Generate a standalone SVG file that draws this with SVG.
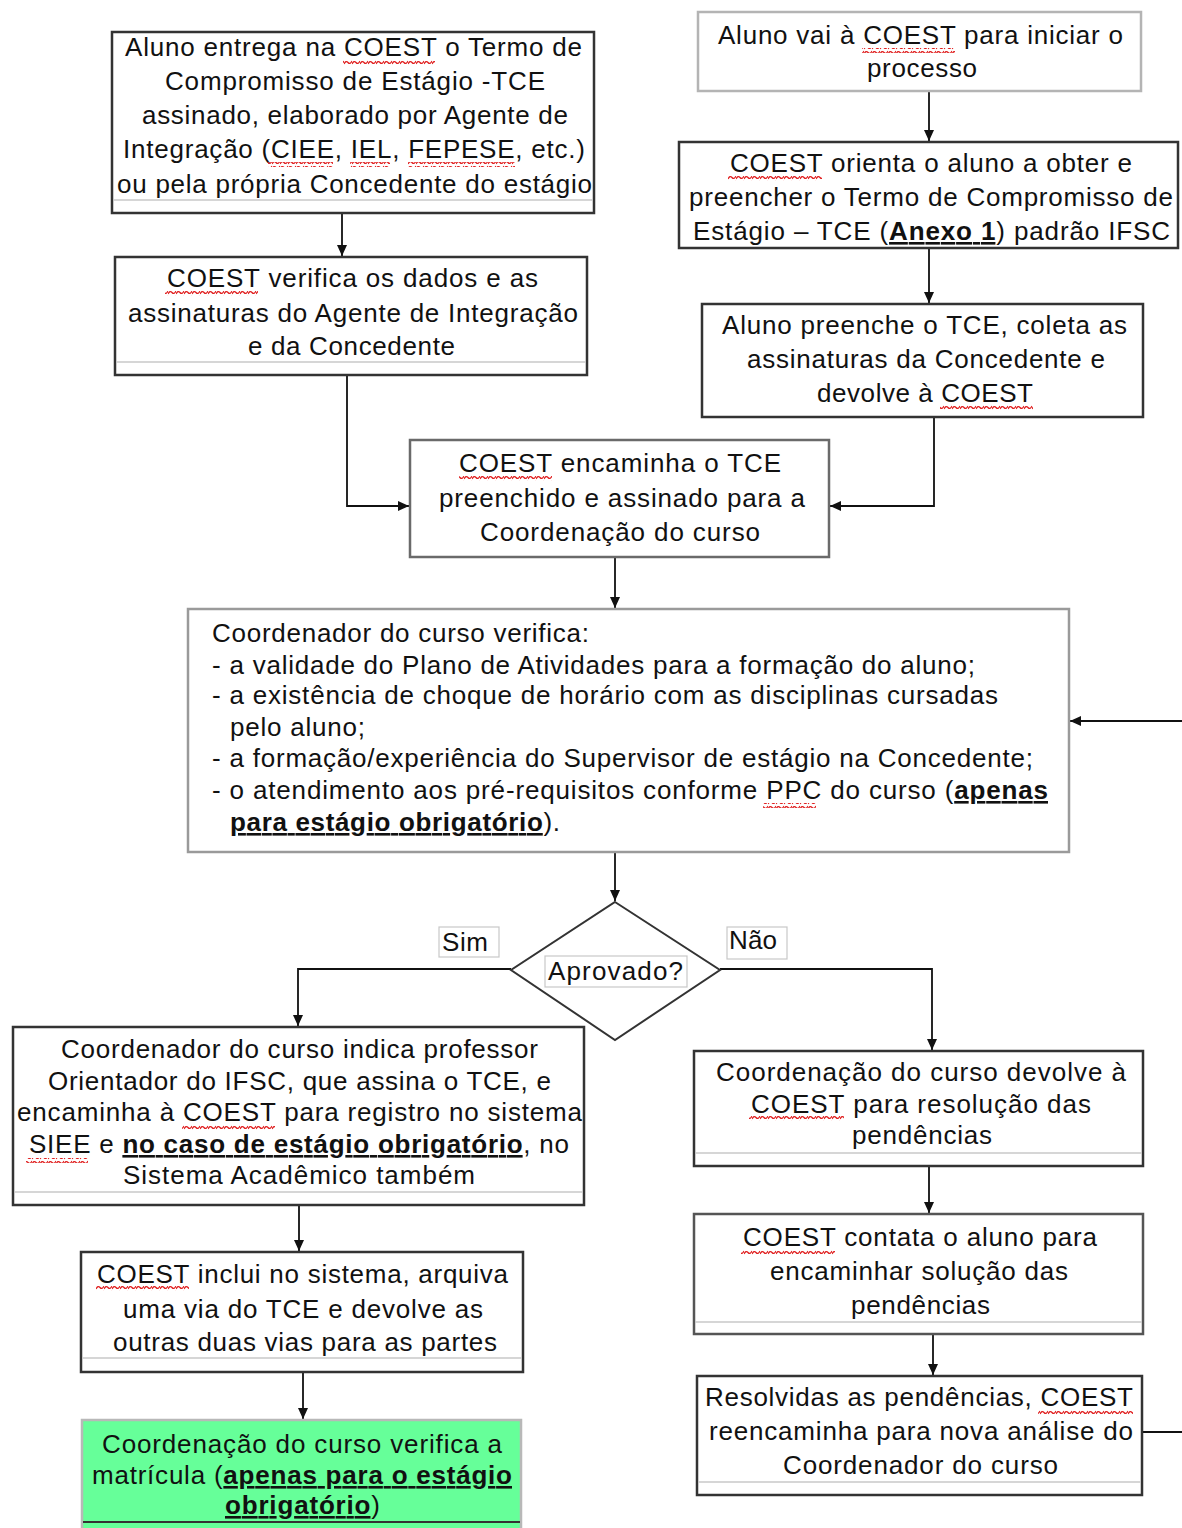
<svg xmlns="http://www.w3.org/2000/svg" width="1182" height="1528" viewBox="0 0 1182 1528">
<style>
text{font-family:"Liberation Sans",Arial,sans-serif;font-size:26px;fill:#111;}
.b{font-weight:bold;text-decoration:underline;}
.box{fill:#fff;stroke:#333;stroke-width:2.5;}
.gbox{fill:#fff;stroke:#9a9a9a;stroke-width:2.5;}
.mbox{fill:#fff;stroke:#6a6a6a;stroke-width:2.5;}
.inner{stroke:#c8c8c8;stroke-width:1.5;fill:none;}
.lbl{fill:#fff;stroke:#c8c8c8;stroke-width:1.2;}
.sq{fill:url(#squig);}
#connectors path{fill:none;stroke:#111;stroke-width:1.8;marker-end:url(#ah);}
</style>
<defs>
<marker id="ah" markerUnits="userSpaceOnUse" markerWidth="11" markerHeight="10" refX="11" refY="5" orient="auto">
<path d="M0,0 L11,5 L0,10 z" fill="#111"/>
</marker>
<pattern id="squig" patternUnits="userSpaceOnUse" width="8" height="5">
<path d="M0,4 Q2,0 4,2.5 T8,1" fill="none" stroke="#e02020" stroke-width="1.3"/>
</pattern>
</defs>
<rect width="1182" height="1528" fill="#fff"/>

<g id="connectors">
<path d="M342,213 V256"/>
<path d="M929,91 V141"/>
<path d="M929,248 V303"/>
<path d="M347,375 V506 H409"/>
<path d="M934,417 V506 H830"/>
<path d="M615,557 V608"/>
<path d="M615,852 V901"/>
<path d="M511,969 H298 V1026"/>
<path d="M720,969 H932 V1050"/>
<path d="M299,1205 V1251"/>
<path d="M929,1166 V1213"/>
<path d="M933,1334 V1375"/>
<path d="M303,1372 V1419"/>
<path d="M1142,1432 H1196 V721 H1070"/>
</g>

<g id="n1">
<rect class="box" x="112" y="32" width="482" height="181"/>
<line class="inner" x1="113" y1="200" x2="593" y2="200"/>
<text x="125" y="56" textLength="457" lengthAdjust="spacing">Aluno entrega na COEST o Termo de</text>
<text x="165" y="90" textLength="380" lengthAdjust="spacing">Compromisso de Estágio -TCE</text>
<text x="142" y="124" textLength="426" lengthAdjust="spacing">assinado, elaborado por Agente de</text>
<text x="123" y="158" textLength="462" lengthAdjust="spacing">Integração (CIEE, IEL, FEPESE, etc.)</text>
<text x="117" y="193" textLength="475" lengthAdjust="spacing">ou pela própria Concedente do estágio</text>
<rect class="sq" x="343" y="60" width="92" height="5"/>
<rect class="sq" x="268" y="162" width="65" height="5"/>
<rect class="sq" x="350" y="162" width="40" height="5"/>
<rect class="sq" x="408" y="162" width="107" height="5"/>
</g>

<g id="n2">
<rect class="box" x="115" y="257" width="472" height="118"/>
<line class="inner" x1="116" y1="362" x2="586" y2="362"/>
<text x="167" y="287" textLength="371" lengthAdjust="spacing">COEST verifica os dados e as</text>
<text x="128" y="322" textLength="450" lengthAdjust="spacing">assinaturas do Agente de Integração</text>
<text x="248" y="355" textLength="207" lengthAdjust="spacing">e da Concedente</text>
<rect class="sq" x="165" y="291" width="93" height="5"/>
</g>

<g id="n3">
<rect class="gbox" x="698" y="12" width="443" height="79" style="stroke:#b4b4b4"/>
<text x="718" y="44" textLength="405" lengthAdjust="spacing">Aluno vai à COEST para iniciar o</text>
<text x="867" y="77" textLength="110" lengthAdjust="spacing">processo</text>
<rect class="sq" x="862" y="48" width="93" height="5"/>
</g>

<g id="n4">
<rect class="box" x="679" y="142" width="499" height="106"/>
<text x="730" y="172" textLength="402" lengthAdjust="spacing">COEST orienta o aluno a obter e</text>
<text x="689" y="206" textLength="484" lengthAdjust="spacing">preencher o Termo de Compromisso de</text>
<text x="693" y="240" textLength="477" lengthAdjust="spacing">Estágio – TCE (<tspan class="b">Anexo 1</tspan>) padrão IFSC</text>
<rect class="sq" x="728" y="176" width="94" height="5"/>
</g>

<g id="n5">
<rect class="box" x="702" y="304" width="441" height="113"/>
<text x="722" y="334" textLength="405" lengthAdjust="spacing">Aluno preenche o TCE, coleta as</text>
<text x="747" y="368" textLength="358" lengthAdjust="spacing">assinaturas da Concedente e</text>
<text x="817" y="402" textLength="216" lengthAdjust="spacing">devolve à COEST</text>
<rect class="sq" x="940" y="405" width="93" height="5"/>
</g>

<g id="n6">
<rect class="mbox" x="410" y="440" width="419" height="117"/>
<text x="459" y="472" textLength="322" lengthAdjust="spacing">COEST encaminha o TCE</text>
<text x="439" y="507" textLength="366" lengthAdjust="spacing">preenchido e assinado para a</text>
<text x="480" y="541" textLength="280" lengthAdjust="spacing">Coordenação do curso</text>
<rect class="sq" x="459" y="476" width="93" height="5"/>
</g>

<g id="n7">
<rect class="gbox" x="188" y="609" width="881" height="243"/>
<text x="212" y="642" textLength="377" lengthAdjust="spacing">Coordenador do curso verifica:</text>
<text x="212" y="674" textLength="763" lengthAdjust="spacing">- a validade do Plano de Atividades para a formação do aluno;</text>
<text x="212" y="704" textLength="786" lengthAdjust="spacing">- a existência de choque de horário com as disciplinas cursadas</text>
<text x="230" y="736" textLength="135" lengthAdjust="spacing">pelo aluno;</text>
<text x="212" y="767" textLength="821" lengthAdjust="spacing">- a formação/experiência do Supervisor de estágio na Concedente;</text>
<text x="212" y="799" textLength="836" lengthAdjust="spacing">- o atendimento aos pré-requisitos conforme PPC do curso (<tspan class="b">apenas</tspan></text>
<text x="230" y="831" textLength="330" lengthAdjust="spacing"><tspan class="b">para estágio obrigatório</tspan>).</text>
<rect class="sq" x="763" y="803" width="53" height="5"/>
</g>

<g id="n8">
<polygon points="615,902 720,970 615,1040 511,970" fill="#fff" stroke="#333" stroke-width="2"/>
<rect class="lbl" x="545" y="956" width="142" height="31"/>
<text x="548" y="980" textLength="135" lengthAdjust="spacing">Aprovado?</text>
</g>

<g id="lblSim">
<rect class="lbl" x="439" y="927" width="60" height="30"/>
<text x="442" y="951" textLength="46" lengthAdjust="spacing">Sim</text>
</g>

<g id="lblNao">
<rect class="lbl" x="727" y="927" width="60" height="32"/>
<text x="729" y="949" textLength="48" lengthAdjust="spacing">Não</text>
</g>

<g id="n9">
<rect class="box" x="13" y="1027" width="571" height="178"/>
<line class="inner" x1="14" y1="1192" x2="583" y2="1192"/>
<text x="61" y="1058" textLength="477" lengthAdjust="spacing">Coordenador do curso indica professor</text>
<text x="48" y="1090" textLength="503" lengthAdjust="spacing">Orientador do IFSC, que assina o TCE, e</text>
<text x="17" y="1121" textLength="565" lengthAdjust="spacing">encaminha à COEST para registro no sistema</text>
<text x="29" y="1153" textLength="540" lengthAdjust="spacing">SIEE e <tspan class="b">no caso de estágio obrigatório</tspan>, no</text>
<text x="123" y="1184" textLength="352" lengthAdjust="spacing">Sistema Acadêmico também</text>
<rect class="sq" x="182" y="1125" width="93" height="5"/>
<rect class="sq" x="26" y="1158" width="62" height="5"/>
</g>

<g id="n10">
<rect class="box" x="694" y="1051" width="449" height="115"/>
<line class="inner" x1="695" y1="1153" x2="1142" y2="1153"/>
<text x="716" y="1081" textLength="410" lengthAdjust="spacing">Coordenação do curso devolve à</text>
<text x="751" y="1113" textLength="340" lengthAdjust="spacing">COEST para resolução das</text>
<text x="852" y="1144" textLength="140" lengthAdjust="spacing">pendências</text>
<rect class="sq" x="749" y="1116" width="95" height="5"/>
</g>

<g id="n11">
<rect class="box" x="694" y="1214" width="449" height="120" style="stroke:#555"/>
<line class="inner" x1="695" y1="1322" x2="1142" y2="1322"/>
<text x="743" y="1246" textLength="354" lengthAdjust="spacing">COEST contata o aluno para</text>
<text x="770" y="1280" textLength="298" lengthAdjust="spacing">encaminhar solução das</text>
<text x="851" y="1314" textLength="139" lengthAdjust="spacing">pendências</text>
<rect class="sq" x="741" y="1250" width="94" height="5"/>
</g>

<g id="n12">
<rect class="box" x="697" y="1376" width="445" height="119"/>
<line class="inner" x1="698" y1="1482" x2="1141" y2="1482"/>
<text x="705" y="1406" textLength="428" lengthAdjust="spacing">Resolvidas as pendências, COEST</text>
<text x="709" y="1440" textLength="424" lengthAdjust="spacing">reencaminha para nova análise do</text>
<text x="783" y="1474" textLength="275" lengthAdjust="spacing">Coordenador do curso</text>
<rect class="sq" x="1038" y="1410" width="95" height="5"/>
</g>

<g id="n13">
<rect class="box" x="81" y="1252" width="442" height="120"/>
<line class="inner" x1="82" y1="1358" x2="522" y2="1358"/>
<text x="97" y="1283" textLength="411" lengthAdjust="spacing">COEST inclui no sistema, arquiva</text>
<text x="123" y="1318" textLength="360" lengthAdjust="spacing">uma via do TCE e devolve as</text>
<text x="113" y="1351" textLength="384" lengthAdjust="spacing">outras duas vias para as partes</text>
<rect class="sq" x="96" y="1286" width="93" height="5"/>
</g>

<g id="n14">
<rect x="82" y="1420" width="439" height="130" fill="#66ff99" stroke="#b8b8b8" stroke-width="2.5"/>
<line x1="83" y1="1522" x2="520" y2="1522" stroke="#333" stroke-width="2"/>
<text x="102" y="1453" textLength="400" lengthAdjust="spacing">Coordenação do curso verifica a</text>
<text x="92" y="1484" textLength="420" lengthAdjust="spacing">matrícula (<tspan class="b">apenas para o estágio</tspan></text>
<text x="225" y="1514" textLength="155" lengthAdjust="spacing"><tspan class="b">obrigatório</tspan>)</text>
</g>
</svg>
